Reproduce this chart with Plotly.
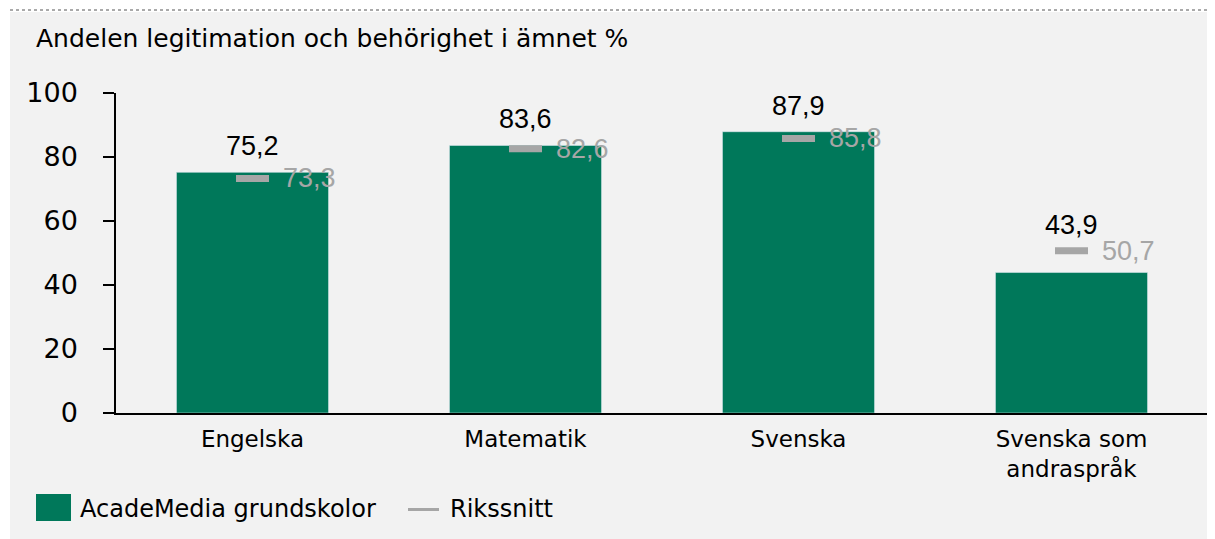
import plotly.graph_objects as go

# Data
categories = ["Engelska", "Matematik", "Svenska", "Svenska som<br>andraspråk"]
acade_values = [75.2, 83.6, 87.9, 43.9]
riks_values = [73.3, 82.6, 85.8, 50.7]
y_ticks = [0, 20, 40, 60, 80, 100]

GREEN = "#00785A"
GREY = "#A6A6A6"
PANEL = "#F2F2F2"
FONT = "DejaVu Sans"
NUM_FONT = "Liberation Sans"

# the page body has an 8px margin, so the figure is drawn 8px smaller
# and all reference pixel positions are shifted by OFF
OFF = 8
W, H = 1215 - OFF, 539 - OFF
L, R, T, B = 116 - OFF, 7, 93 - OFF, 126
PW, PH = W - L - R, H - T - B


def px_x(px):
    """reference pixel x -> paper x"""
    return (px - OFF - L) / PW


def px_y(py):
    """reference pixel y (from top) -> paper y"""
    return (H - B - (py - OFF)) / PH


fig = go.Figure()

# Bars
fig.add_trace(go.Bar(
    x=categories,
    y=acade_values,
    width=0.557,
    marker_color=GREEN,
    name="AcadeMedia grundskolor",
    showlegend=False,
    hoverinfo="skip",
))

# Rikssnitt markers (line-ew is drawn 1.4x its size)
fig.add_trace(go.Scatter(
    x=categories,
    y=riks_values,
    mode="markers",
    marker=dict(symbol="line-ew", size=33 / 1.4, line=dict(width=7, color=GREY)),
    name="Rikssnitt",
    showlegend=False,
    hoverinfo="skip",
))

annotations = []
# Value labels above each group and next to each Rikssnitt marker
for cat, a, r in zip(categories, acade_values, riks_values):
    annotations.append(dict(
        x=cat, y=max(a, r), xref="x", yref="y",
        text=f"{a:.1f}".replace(".", ","),
        showarrow=False, yanchor="middle", yshift=26,
        font=dict(family=NUM_FONT, size=27, color="black"),
    ))
    annotations.append(dict(
        x=cat, y=r, xref="x", yref="y",
        text=f"{r:.1f}".replace(".", ","),
        showarrow=False, xanchor="left", yanchor="middle", xshift=28,
        font=dict(family=NUM_FONT, size=27, color=GREY),
    ))

# Hand-made legend
annotations.append(dict(
    x=px_x(78), y=px_y(509), xref="paper", yref="paper",
    text="AcadeMedia grundskolor", showarrow=False,
    xanchor="left", yanchor="middle",
    font=dict(family=FONT, size=24, color="black"),
))
annotations.append(dict(
    x=px_x(448), y=px_y(509), xref="paper", yref="paper",
    text="Rikssnitt", showarrow=False,
    xanchor="left", yanchor="middle",
    font=dict(family=FONT, size=24, color="black"),
))

shapes = [
    # white strips around the grey panel
    dict(type="rect", xref="paper", yref="paper",
         x0=px_x(-20), x1=px_x(10), y0=px_y(560), y1=px_y(-20),
         fillcolor="white", line_width=0, layer="below"),
    dict(type="rect", xref="paper", yref="paper",
         x0=px_x(-20), x1=px_x(1240), y0=px_y(12), y1=px_y(-20),
         fillcolor="white", line_width=0, layer="below"),
    # dotted top rule
    dict(type="line", xref="paper", yref="paper",
         x0=px_x(10), x1=px_x(1215), y0=px_y(10), y1=px_y(10),
         line=dict(color="#555555", width=1, dash="dot")),
    # legend symbols
    dict(type="rect", xref="paper", yref="paper",
         x0=px_x(36), x1=px_x(71), y0=px_y(521), y1=px_y(494),
         fillcolor=GREEN, line_width=0),
    dict(type="line", xref="paper", yref="paper",
         x0=px_x(408), x1=px_x(439), y0=px_y(509.5), y1=px_y(509.5),
         line=dict(color=GREY, width=3)),
]

fig.update_layout(
    width=W, height=H,
    margin=dict(l=L, r=R, t=T, b=B),
    paper_bgcolor=PANEL,
    plot_bgcolor=PANEL,
    showlegend=False,
    font=dict(family=FONT, color="black"),
    title=dict(
        text="Andelen legitimation och behörighet i ämnet %",
        x=(36 - OFF) / W, xanchor="left",
        y=1 - (38 - OFF) / H, yanchor="middle",
        font=dict(family=FONT, size=25, color="black"),
    ),
    annotations=annotations,
    shapes=shapes,
)

fig.update_xaxes(
    showline=True, linecolor="black", linewidth=1.5,
    ticks="", showgrid=False,
    ticklabelstandoff=5,
    tickfont=dict(family=FONT, size=23, color="black"),
)
fig.update_yaxes(
    range=[0, 100], tickvals=y_ticks,
    showline=True, linecolor="black", linewidth=1.5,
    ticks="outside", ticklen=11, tickwidth=1.5, tickcolor="black",
    showgrid=False, zeroline=False,
    ticklabelstandoff=20,
    tickfont=dict(family=FONT, size=27, color="black"),
)

fig.write_html("out.html")
